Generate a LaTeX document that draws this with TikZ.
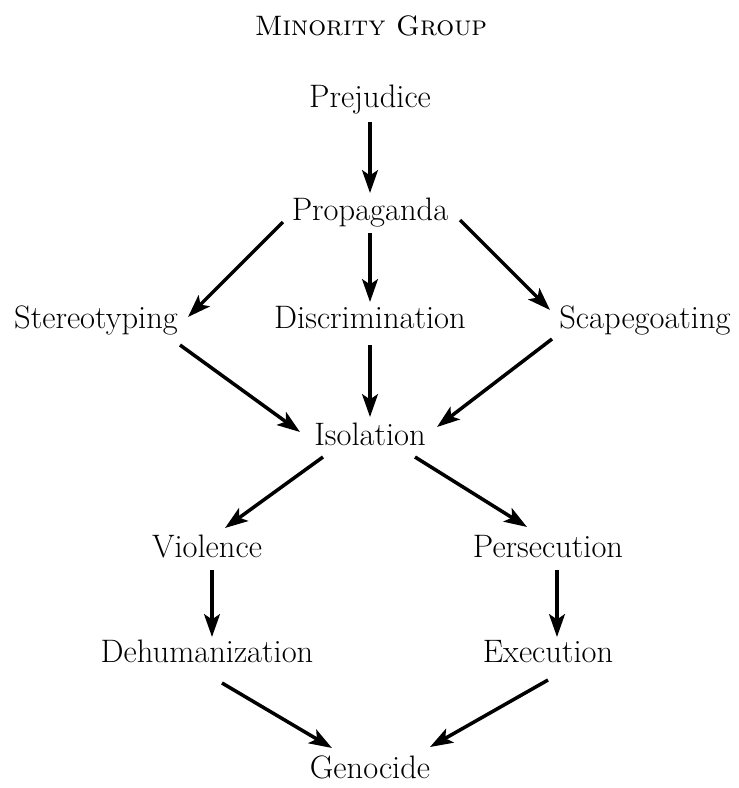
\documentclass[tikz,border=0pt]{standalone}
\usepackage{tikz}
\usetikzlibrary{arrows.meta}

\begin{document}
\begin{tikzpicture}[x=0.02cm,y=-0.02cm,>={Stealth[length=13pt,width=9pt,inset=3pt]},
                lbl/.style={anchor=base,inner sep=0pt,font=\fontsize{18.5}{22}\selectfont},
                arr/.style={->,line width=2pt}]
                \useasboundingbox (0,0) rectangle (738,788);
                \node [lbl,font=\fontsize{16}{19}\selectfont] (title) at (371,35) {\textsc{Minority Group}};
                \node [lbl] (pre) at (370,107) {Prejudice};
                \node [lbl] (prop) at (370,220) {Propaganda};
                \node [lbl] (ster) at (96,328) {Stereotyping};
                \node [lbl] (disc) at (370,328) {Discrimination};
                \node [lbl] (scap) at (645,328) {Scapegoating};
                \node [lbl] (iso) at (370,445) {Isolation};
                \node [lbl] (viol) at (207,557) {Violence};
                \node [lbl] (pers) at (548,557) {Persecution};
                \node [lbl] (dehu) at (207,662) {Dehumanization};
                \node [lbl] (exec) at (548,662) {Execution};
                \node [lbl] (geno) at (370,778) {Genocide};
                % top part
                \draw [arr] ([shift={(0,15)}]pre.base) -- ([shift={(0,-27)}]prop.base);
                \draw [arr] ([shift={(-87,2)}]prop.base) -- ([shift={(92,-11)}]ster.base);
                \draw [arr] ([shift={(0,13)}]prop.base) -- ([shift={(0,-26)}]disc.base);
                \draw [arr] ([shift={(90,0)}]prop.base) -- ([shift={(-95,-18)}]scap.base);
                % into isolation
                \draw [arr] ([shift={(84,17)}]ster.base) -- ([shift={(-70,-13)}]iso.base);
                \draw [arr] ([shift={(0,17)}]disc.base) -- ([shift={(0,-28)}]iso.base);
                \draw [arr] ([shift={(-93,11)}]scap.base) -- ([shift={(67,-18)}]iso.base);
                % two branches
                \draw [arr] ([shift={(-47,12)}]iso.base) -- ([shift={(18,-29)}]viol.base);
                \draw [arr] ([shift={(45,12)}]iso.base) -- ([shift={(-21,-30)}]pers.base);
                \draw [arr] ([shift={(5,13)}]viol.base) -- ([shift={(5,-25)}]dehu.base);
                \draw [arr] ([shift={(9,13)}]pers.base) -- ([shift={(9,-25)}]exec.base);
                \draw [arr] ([shift={(15,21)}]dehu.base) -- ([shift={(-38,-30)}]geno.base);
                \draw [arr] ([shift={(0,18)}]exec.base) -- ([shift={(60,-31)}]geno.base);
\end{tikzpicture}
\end{document}
